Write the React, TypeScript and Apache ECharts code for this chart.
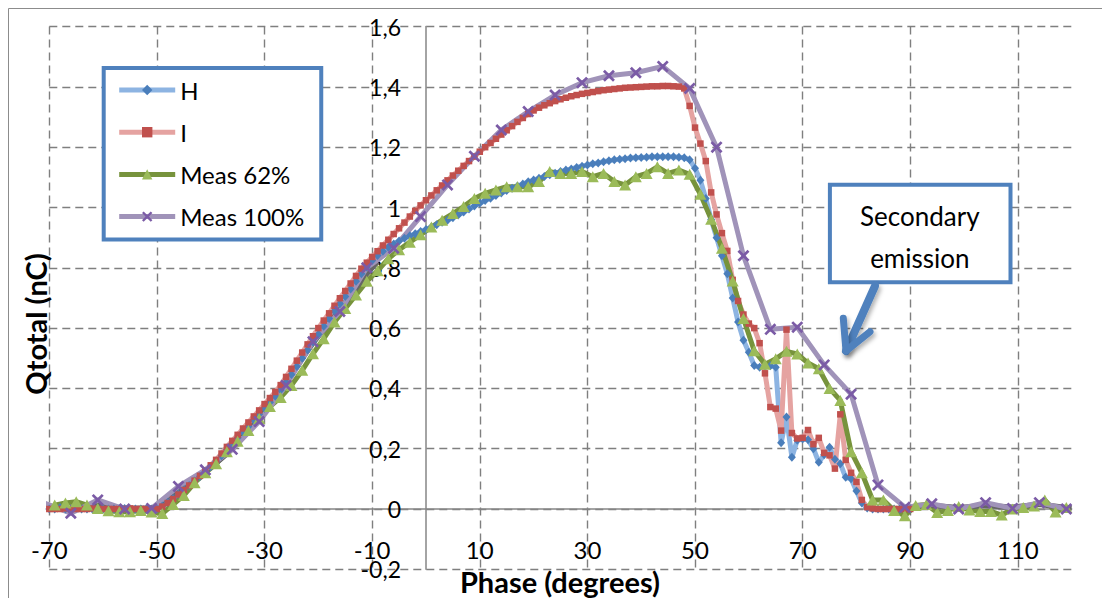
import React, { useEffect, useRef } from 'react';
import * as echarts from 'echarts';

// ---- data ----
// H and I are sampled every 1 degree, from -70 to 90 degrees
const HI_PHASE_START = -70;
const HI_PHASE_STEP = 1;
const H_VALUES = [
  0, 0, 0.005, 0, 0, 0.003, 0, 0, 0, 0.002,
  0, 0, 0, 0, 0.002, 0, 0, 0, 0, 0,
  0, 0.01, 0.022, 0.035, 0.049, 0.063, 0.078, 0.093, 0.108, 0.124,
  0.14, 0.158, 0.177, 0.197, 0.217, 0.236, 0.255, 0.274, 0.294, 0.314,
  0.334, 0.354, 0.374, 0.395, 0.42, 0.446, 0.473, 0.5, 0.527, 0.554,
  0.58, 0.606, 0.632, 0.657, 0.681, 0.705, 0.73, 0.755, 0.78, 0.803,
  0.824, 0.841, 0.855, 0.868, 0.879, 0.889, 0.898, 0.906, 0.913, 0.92,
  0.927, 0.935, 0.943, 0.951, 0.958, 0.966, 0.975, 0.985, 0.995, 1.005,
  1.014, 1.023, 1.031, 1.04, 1.048, 1.056, 1.064, 1.071, 1.078, 1.085,
  1.091, 1.097, 1.103, 1.109, 1.114, 1.119, 1.124, 1.128, 1.133, 1.137,
  1.141, 1.145, 1.148, 1.152, 1.155, 1.158, 1.16, 1.162, 1.164, 1.165,
  1.166, 1.167, 1.168, 1.168, 1.168, 1.168, 1.168, 1.167, 1.165, 1.158,
  1.13, 1.09, 1.03, 0.96, 0.9, 0.84, 0.78, 0.7, 0.62, 0.56,
  0.52, 0.476, 0.47, 0.475, 0.475, 0.47, 0.22, 0.305, 0.172, 0.228,
  0.232, 0.23, 0.2, 0.155, 0.18, 0.205, 0.165, 0.15, 0.105, 0.1,
  0.06, 0.02, 0.003, 0, 0, 0, 0, 0, 0, 0,
  0,
];
const I_VALUES = [
  0, 0, 0, 0.002, 0, 0, 0, 0, 0.002, 0,
  0, 0, 0, 0, 0, 0.002, 0, 0, 0, 0,
  0, 0.008, 0.02, 0.033, 0.048, 0.063, 0.078, 0.094, 0.11, 0.127,
  0.145, 0.163, 0.184, 0.206, 0.226, 0.246, 0.267, 0.287, 0.307, 0.327,
  0.348, 0.368, 0.388, 0.411, 0.438, 0.465, 0.492, 0.519, 0.546, 0.573,
  0.6, 0.625, 0.649, 0.674, 0.699, 0.723, 0.748, 0.773, 0.797, 0.817,
  0.836, 0.855, 0.874, 0.893, 0.912, 0.931, 0.95, 0.97, 0.989, 1.007,
  1.024, 1.04, 1.057, 1.073, 1.09, 1.106, 1.122, 1.138, 1.154, 1.169,
  1.185, 1.2, 1.214, 1.228, 1.242, 1.256, 1.27, 1.284, 1.297, 1.31,
  1.322, 1.331, 1.339, 1.346, 1.353, 1.359, 1.364, 1.369, 1.373, 1.377,
  1.38, 1.383, 1.386, 1.389, 1.391, 1.393, 1.395, 1.397, 1.398, 1.399,
  1.4, 1.401, 1.402, 1.402, 1.403, 1.403, 1.402, 1.401, 1.395, 1.337,
  1.265, 1.212, 1.154, 1.05, 0.977, 0.915, 0.856, 0.76, 0.69, 0.645,
  0.615, 0.6, 0.55, 0.45, 0.338, 0.333, 0.26, 0.595, 0.252, 0.234,
  0.236, 0.262, 0.215, 0.236, 0.186, 0.178, 0.134, 0.314, 0.163, 0.12,
  0.09, 0.03, 0.006, 0.002, 0, 0, 0, 0, 0, 0,
  0,
];

// Meas 62% is sampled every 2 degrees, from -69 to 119 degrees
const M62_PHASE_START = -69;
const M62_PHASE_STEP = 2;
const M62_VALUES = [
  0.013, 0.02, 0.024, 0.013, 0.002, -0.006, -0.009, -0.009, -0.005, -0.01,
  -0.015, 0.015, 0.045, 0.087, 0.12, 0.15, 0.19, 0.225, 0.26, 0.3,
  0.34, 0.37, 0.41, 0.46, 0.515, 0.565, 0.62, 0.665, 0.71, 0.755,
  0.79, 0.83, 0.86, 0.885, 0.91, 0.935, 0.958, 0.98, 1.003, 1.03,
  1.047, 1.058, 1.069, 1.069, 1.069, 1.086, 1.119, 1.113, 1.113, 1.119,
  1.102, 1.113, 1.086, 1.075, 1.102, 1.113, 1.135, 1.113, 1.124, 1.11,
  1.044, 0.961, 0.865, 0.756, 0.632, 0.525, 0.48, 0.498, 0.523, 0.514,
  0.484, 0.465, 0.4, 0.36, 0.19, 0.12, 0.03, 0.03, -0.005, -0.022,
  0.012, 0.015, -0.012, -0.005, 0.008, -0.003, -0.008, -0.008, -0.02, 0,
  0.005, 0.01, 0.03, -0.01, 0.005,
];

// Meas 100%
const M100_PHASE = [
  -71, -66, -61, -56, -51, -46, -41, -36, -31, -26, -21, -16, -11, -6, -1,
  4, 9, 14, 19, 24, 29, 34, 39, 44, 49, 54, 59, 64, 69, 74, 79, 84, 89,
  94, 99, 104, 109, 114, 119,
];
const M100_VALUES = [
  0.02, -0.014, 0.03, 0, 0.002, 0.075, 0.13, 0.198, 0.29, 0.41, 0.555, 0.655, 0.8, 0.865, 0.97,
  1.075, 1.17, 1.257, 1.318, 1.373, 1.414, 1.437, 1.447, 1.468, 1.395, 1.2, 0.84, 0.596, 0.603, 0.478, 0.381, 0.08, 0.006,
  0.017, 0, 0.021, 0.002, 0.021, 0,
];

// unlabelled grey trace (not in the legend)
const GREY_LEFT_PHASE = [-70, -66, -61, -56, -51, -46, -41, -36, -31, -26, -21, -16, -11, -9];
const GREY_LEFT_VALUES = [0.01, -0.004, 0.016, 0.002, 0.003, 0.062, 0.125, 0.2, 0.3, 0.42, 0.55, 0.66, 0.78, 0.82];
const GREY_RIGHT_PHASE = [87, 89, 94, 99, 104, 109, 114, 119, 120];
const GREY_RIGHT_VALUES = [-0.003, 0.005, 0.012, 0.004, 0.012, 0.006, 0.016, 0.004, 0.003];

const X_TICKS = [-70, -50, -30, -10, 10, 30, 50, 70, 90, 110];
const LEGEND_NAMES = ['H', 'I', 'Meas 62%', 'Meas 100%'];
const X_TITLE = 'Phase (degrees)';
const Y_TITLE = 'Qtotal (nC)';
const CALLOUT_LINES = ['Secondary', 'emission'];

// ---- helpers ----
const stepped = (start: number, step: number, values: number[]) =>
  values.map((v, i) => [start + i * step, v]);
const zip = (xs: number[], ys: number[]) => xs.map((x, i) => [x, ys[i]]);

const FONT = 'Lato, "Open Sans", sans-serif';
const X_SYMBOL =
  'path://M0,1.6L1.6,0L5,3.4L8.4,0L10,1.6L6.6,5L10,8.4L8.4,10L5,6.6L1.6,10L0,8.4L3.4,5Z';
const CALLOUT_BLUE = '#4F81BD';

// layout (px inside the chart div)
const GRID = { left: 41.3, right: 30.3, top: 18.6, bottom: 28.7 };
const CHART_W = 1094;
const CHART_H = 590;

export default function App() {
  const ref = useRef<HTMLDivElement>(null);

  useEffect(() => {
    if (!ref.current) return;
    const chart = echarts.init(ref.current, undefined, { renderer: 'svg' });

    // place the axes (line + labels) where the other axis crosses zero
    const xMin = -70, xMax = 120, yMin = -0.2, yMax = 1.6;
    const gridW = CHART_W - GRID.left - GRID.right;
    const gridH = CHART_H - GRID.top - GRID.bottom;
    const yAxisOffset = -((0 - xMin) / (xMax - xMin)) * gridW;
    const xAxisOffset = -((0 - yMin) / (yMax - yMin)) * gridH;

    const splitLine = {
      show: true,
      lineStyle: { color: '#7f7f7f', type: [8, 5], width: 1.4 },
    };
    const axisLineStyle = { color: '#868686', width: 1.5 };

    const option: any = {
      animation: false,
      textStyle: { fontFamily: FONT },
      grid: { ...GRID, containLabel: false, outerBoundsMode: 'none' },
      xAxis: {
        type: 'value',
        min: xMin,
        max: xMax,
        position: 'bottom',
        offset: xAxisOffset,
        axisLine: { show: true, onZero: false, lineStyle: axisLineStyle },
        axisTick: { show: false, customValues: X_TICKS },
        axisLabel: {
          customValues: X_TICKS,
          margin: 28,
          fontSize: 24,
          color: '#000',
          fontFamily: FONT,
        },
        splitLine,
      },
      yAxis: {
        type: 'value',
        min: yMin,
        max: yMax,
        interval: 0.2,
        position: 'left',
        offset: yAxisOffset,
        axisLine: { show: true, onZero: false, lineStyle: axisLineStyle },
        axisTick: { show: false },
        axisLabel: {
          margin: 25,
          fontSize: 23,
          color: '#000',
          fontFamily: FONT,
          formatter: (v: number) => String(Math.round(v * 10) / 10).replace('.', ','),
        },
        splitLine,
      },
      legend: {
        data: LEGEND_NAMES,
        orient: 'vertical',
        left: 95.7,
        top: 60,
        padding: [10, 17, 11, 13],
        itemWidth: 56,
        itemHeight: 13,
        itemGap: 18.2,
        lineStyle: { width: 5 },
        backgroundColor: '#fff',
        borderColor: CALLOUT_BLUE,
        borderWidth: 4,
        selectedMode: false,
        textStyle: { fontSize: 24, color: '#000', fontFamily: FONT },
      },
      series: [
        {
          name: 'H',
          type: 'line',
          data: stepped(HI_PHASE_START, HI_PHASE_STEP, H_VALUES),
          symbol: 'diamond',
          symbolSize: [8, 9],
          showAllSymbol: true,
          itemStyle: { color: '#4A7EBB' },
          lineStyle: { color: '#8DB4E2', width: 5, join: 'round' },
          emphasis: { disabled: true },
          silent: true,
        },
        {
          name: 'I',
          type: 'line',
          data: stepped(HI_PHASE_START, HI_PHASE_STEP, I_VALUES),
          symbol: 'rect',
          symbolSize: 6.5,
          showAllSymbol: true,
          itemStyle: { color: '#C0504D' },
          lineStyle: { color: '#E5A3A1', width: 5, join: 'round' },
          emphasis: { disabled: true },
          silent: true,
        },
        {
          name: 'Meas 62%',
          type: 'line',
          data: stepped(M62_PHASE_START, M62_PHASE_STEP, M62_VALUES),
          symbol: 'triangle',
          symbolSize: [12, 11],
          showAllSymbol: true,
          itemStyle: { color: '#9BBB59' },
          lineStyle: { color: '#77933C', width: 5, join: 'round' },
          emphasis: { disabled: true },
          silent: true,
        },
        {
          name: 'grey-left',
          type: 'line',
          data: zip(GREY_LEFT_PHASE, GREY_LEFT_VALUES),
          symbol: 'none',
          smooth: 0.3,
          lineStyle: { color: '#666666', width: 5.5, join: 'round' },
          emphasis: { disabled: true },
          silent: true,
        },
        {
          name: 'grey-right',
          type: 'line',
          data: zip(GREY_RIGHT_PHASE, GREY_RIGHT_VALUES),
          symbol: 'none',
          lineStyle: { color: '#666666', width: 5.5, join: 'round' },
          emphasis: { disabled: true },
          silent: true,
        },
        {
          name: 'Meas 100%',
          type: 'line',
          data: zip(M100_PHASE, M100_VALUES),
          symbol: X_SYMBOL,
          symbolSize: 12,
          showAllSymbol: true,
          itemStyle: { color: '#7B5BA6' },
          lineStyle: { color: '#A093B9', width: 5, join: 'round' },
          emphasis: { disabled: true },
          silent: true,
        },
      ],
      graphic: {
        elements: [
          {
            type: 'rect',
            silent: true,
            z: 0,
            shape: { x: 0.5, y: 0.5, width: 1300, height: 900 },
            style: { fill: 'none', stroke: '#8c8c8c', lineWidth: 1 },
          },
          {
            type: 'text',
            silent: true,
            z: 100,
            x: 552,
            y: 573,
            style: {
              text: X_TITLE,
              font: `bold 29px ${FONT}`,
              fill: '#000',
              align: 'center',
              verticalAlign: 'middle',
              textAlign: 'center',
              textVerticalAlign: 'middle',
            },
          },
          {
            type: 'text',
            silent: true,
            z: 100,
            x: 27,
            y: 316,
            rotation: Math.PI / 2,
            style: {
              text: Y_TITLE,
              font: `bold 29px ${FONT}`,
              fill: '#000',
              align: 'center',
              verticalAlign: 'middle',
              textAlign: 'center',
              textVerticalAlign: 'middle',
            },
          },
          // callout box
          {
            type: 'rect',
            silent: true,
            z: 100,
            shape: { x: 821.9, y: 176.7, width: 180.6, height: 97.6 },
            style: { fill: '#fff', stroke: CALLOUT_BLUE, lineWidth: 4 },
          },
          {
            type: 'text',
            silent: true,
            z: 101,
            x: 911.8,
            y: 208,
            style: {
              text: CALLOUT_LINES[0],
              font: `26px ${FONT}`,
              fill: '#000',
              align: 'center',
              verticalAlign: 'middle',
              textAlign: 'center',
              textVerticalAlign: 'middle',
            },
          },
          {
            type: 'text',
            silent: true,
            z: 101,
            x: 911.8,
            y: 249.7,
            style: {
              text: CALLOUT_LINES[1],
              font: `26px ${FONT}`,
              fill: '#000',
              align: 'center',
              verticalAlign: 'middle',
              textAlign: 'center',
              textVerticalAlign: 'middle',
            },
          },
          // arrow
          {
            type: 'line',
            silent: true,
            z: 100,
            shape: { x1: 867, y1: 278, x2: 838, y2: 343 },
            style: {
              stroke: CALLOUT_BLUE,
              lineWidth: 8,
              lineCap: 'round',
              shadowBlur: 4,
              shadowColor: 'rgba(0,0,0,0.3)',
              shadowOffsetX: 2,
              shadowOffsetY: 3,
            },
          },
          {
            type: 'polyline',
            silent: true,
            z: 100,
            shape: { points: [[835.3, 310.3], [838, 343], [862, 323.7]] },
            style: {
              fill: 'none',
              stroke: CALLOUT_BLUE,
              lineWidth: 7,
              lineCap: 'round',
              lineJoin: 'round',
              shadowBlur: 4,
              shadowColor: 'rgba(0,0,0,0.3)',
              shadowOffsetX: 2,
              shadowOffsetY: 3,
            },
          },
        ],
      },
    };

    chart.setOption(option);
    return () => chart.dispose();
  }, []);

  return (
    <div
      ref={ref}
      style={{ position: 'fixed', left: 8, top: 8, width: CHART_W, height: CHART_H, background: '#fff' }}
    />
  );
}
